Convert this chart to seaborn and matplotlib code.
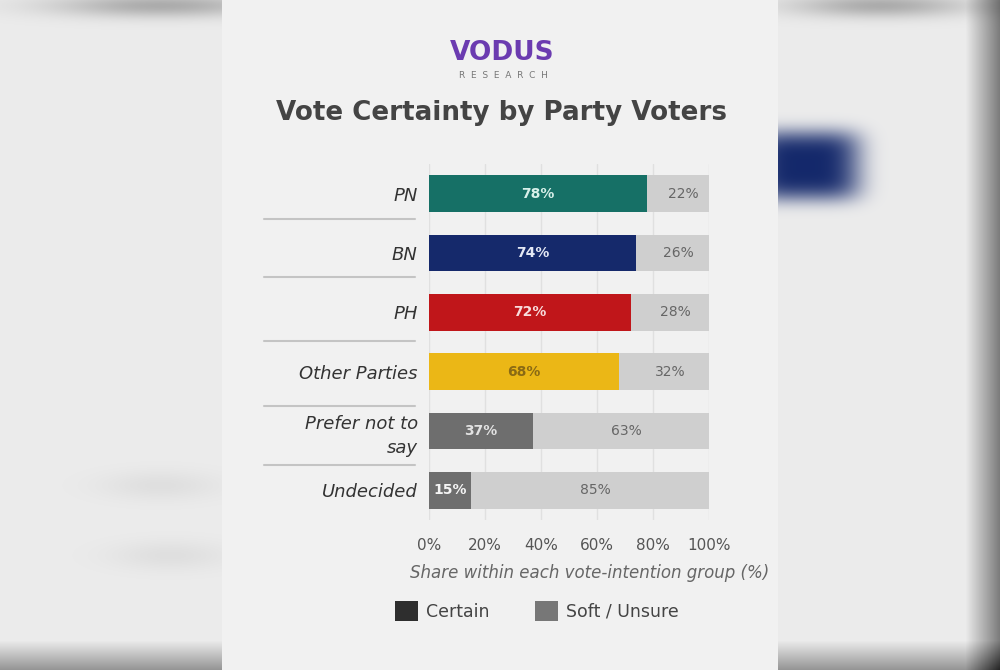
import numpy as np
import matplotlib
matplotlib.use("Agg")
import matplotlib.pyplot as plt
from matplotlib.patches import Patch, Rectangle
import matplotlib.transforms as mtransforms
import seaborn as sns

# ---- data ----
categories = ["PN", "BN", "PH", "Other Parties", "Prefer not to\nsay", "Undecided"]
certain = [78, 74, 72, 68, 37, 15]
soft = [22, 26, 28, 32, 63, 85]
bar_colors = ["#167066", "#15296b", "#c0161a", "#ebb716", "#6e6e6e", "#6e6e6e"]
label_colors = ["#d8f0ea", "#e4e8f4", "#f8dcdc", "#8a6a14", "#e2e2e2", "#f4f4f4"]
xticks = [0, 20, 40, 60, 80, 100]
xtick_labels = ["0%", "20%", "40%", "60%", "80%", "100%"]
legend_labels = ["Certain", "Soft / Unsure"]

# separator offsets below each category (style/layout only)
sep_offsets = [0.43, 0.40, 0.49, 0.58, 0.57]

sns.set_theme(style="white")
plt.rcParams["font.family"] = ["DejaVu Sans"]

fig = plt.figure(figsize=(10, 6.7), dpi=100)
fig.patch.set_facecolor("#e9e9e9")

# background decoration (blurred screenshot surroundings)
bg = fig.add_axes([0, 0, 1, 1], zorder=-10)
H, W = 670, 1000
yy, xx = np.mgrid[0:H, 0:W]
img = np.full((H, W), 0.925)
img -= 0.35 * np.clip((yy - 640) / 30.0, 0, 1)
img -= 0.45 * np.clip((xx - 965) / 35.0, 0, 1)
img -= 0.25 * np.exp(-(((xx - 160) / 110.0) ** 2 + ((yy - 5) / 12.0) ** 2))
img -= 0.25 * np.exp(-(((xx - 880) / 90.0) ** 2 + ((yy - 5) / 12.0) ** 2))
img -= 0.05 * np.exp(-(((xx - 160) / 60.0) ** 2 + ((yy - 485) / 15.0) ** 2))
img -= 0.05 * np.exp(-(((xx - 170) / 60.0) ** 2 + ((yy - 555) / 15.0) ** 2))
rgb = np.dstack([img, img, img])
blob = np.exp(-(((xx - 805) / 55.0) ** 4 + ((yy - 165) / 35.0) ** 4))
navy = np.array([0.08, 0.16, 0.42])
rgb = rgb * (1 - blob[..., None]) + navy * blob[..., None]
bg.imshow(np.clip(rgb, 0, 1), aspect="auto", extent=[0, 1, 0, 1])
bg.axis("off")
bg.add_patch(Rectangle((0.222, 0.0), 0.556, 1.0, transform=bg.transAxes,
                       facecolor="#f1f1f1", edgecolor="none", zorder=5))

# main axes
ax = fig.add_axes([0.429, 1 - 520 / 670, 0.28, 356 / 670])
ax.set_facecolor("none")

total = [c + s for c, s in zip(certain, soft)]
sns.barplot(x=total, y=categories, color="#cfcfcf", width=0.62, ax=ax,
            saturation=1, orient="h", linewidth=0)
sns.barplot(x=certain, y=categories, hue=categories, palette=bar_colors,
            width=0.62, ax=ax, saturation=1, legend=False, orient="h",
            linewidth=0)

ax.set_xlim(0, 100)
ax.set_ylim(5.5, -0.5)
ax.set_xticks(xticks)
ax.set_xticklabels(xtick_labels, color="#555555", fontsize=11)
ax.tick_params(axis="x", length=0, pad=13)
ax.tick_params(axis="y", length=0, pad=8)
for lab in ax.get_yticklabels():
    lab.set_fontstyle("italic")
    lab.set_fontsize(13)
    lab.set_color("#333333")
    lab.set_horizontalalignment("right")
    lab.set_linespacing(1.45)
ax.set_xlabel("Share within each vote-intention group (%)", fontsize=12,
              fontstyle="italic", color="#666666")
ax.xaxis.set_label_coords(0.575, -0.125)
ax.set_ylabel("")
for s in ax.spines.values():
    s.set_visible(False)
ax.grid(axis="x", color="#e0e0e0", linewidth=1)
ax.set_axisbelow(True)

# value labels
for i, (c, s) in enumerate(zip(certain, soft)):
    ax.text(c / 2, i, f"{c}%", ha="center", va="center", fontsize=10,
            fontweight="bold", color=label_colors[i])
    ax.text(c + s / 2 + 2, i, f"{s}%", ha="center", va="center",
            fontsize=10, color="#666666")

# category separators
trans = mtransforms.blended_transform_factory(ax.transAxes, ax.transData)
for k, off in enumerate(sep_offsets):
    ax.plot([-0.59, -0.05], [k + off, k + off], transform=trans,
            color="#c4c4c4", linewidth=1.5, clip_on=False)

# legend
handles = [Patch(facecolor="#2e2e2e", edgecolor="none"),
           Patch(facecolor="#777777", edgecolor="none")]
fig.legend(handles, legend_labels, loc="center", bbox_to_anchor=(0.537, 1 - 611 / 670),
           ncol=2, frameon=False, fontsize=12.5, handlelength=1.3, handleheight=1.4,
           columnspacing=2.6, handletextpad=0.5, labelcolor="#444444")

# header
fig.text(0.502, 1 - 53 / 670, "VODUS", ha="center", va="center", fontsize=19,
         fontweight="bold", color="#6b3bb0")
fig.text(0.503, 1 - 75 / 670, "R  E  S  E  A  R  C  H", ha="center", va="center",
         fontsize=6.5, color="#777777")
fig.text(0.502, 1 - 113 / 670, "Vote Certainty by Party Voters", ha="center",
         va="center", fontsize=18.8, fontweight="bold", color="#444444")

fig.savefig("out.png", dpi=100, facecolor=fig.get_facecolor())
